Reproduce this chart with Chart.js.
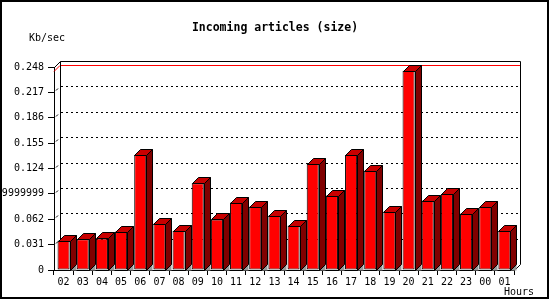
<!DOCTYPE html>
<html>
<head>
<meta charset="utf-8">
<script src="https://cdn.jsdelivr.net/npm/chart.js@4/dist/chart.umd.min.js"></script>
<style>
  html, body { margin: 0; padding: 0; background: #fff; }
  #wrap { width: 550px; height: 300px; }
</style>
</head>
<body>
<div id="wrap"><canvas id="chart" width="550" height="300"></canvas></div>
<script>
// hours on the x axis
const hours = ['02', '03', '04', '05', '06', '07', '08', '09', '10', '11', '12', '13',
               '14', '15', '16', '17', '18', '19', '20', '21', '22', '23', '00', '01'];
// incoming size, Kb/sec
const sizes = [0.036, 0.0375, 0.0385, 0.047, 0.1405, 0.0567, 0.048, 0.106, 0.0617, 0.0824, 0.0775, 0.0665,
               0.0543, 0.130, 0.091, 0.1405, 0.1215, 0.0714, 0.2435, 0.0848, 0.0928, 0.069, 0.077, 0.0476];
// y ticks as printed
const yTickValues = [0, 0.031, 0.062, 0.093, 0.124, 0.155, 0.186, 0.217, 0.248];
const yTickLabels = ['0', '0.031', '0.062', '0.09999999', '0.124', '0.155', '0.186', '0.217', '0.248'];

const TITLE = 'Incoming articles (size)';
const Y_TITLE = 'Kb/sec';
const X_TITLE = 'Hours';

const DEPTH = 6;
const FONT = 'DejaVu Sans Mono';

Chart.defaults.font.family = FONT;
Chart.defaults.color = '#000';

// back wall, grid and the 3d faces of the bars
const threeD = {
    id: 'threeD',
    beforeDatasetsDraw(chart) {
        const { ctx, chartArea: a, scales: { y } } = chart;
        const d = DEPTH;
        ctx.save();
        ctx.lineWidth = 1;
        ctx.strokeStyle = '#000';

        // dashed grid on back wall
        ctx.setLineDash([2, 3]);
        yTickValues.forEach((v, i) => {
            if (i === 0 || i === yTickValues.length - 1) return;
            const py = Math.round(y.getPixelForValue(v)) - d + 0.5;
            ctx.beginPath();
            ctx.moveTo(a.left + d + 1, py);
            ctx.lineTo(a.right + d, py);
            ctx.stroke();
        });
        ctx.setLineDash([]);
        // little diagonals from the front ticks
        yTickValues.forEach((v, i) => {
            if (i === 0 || i === yTickValues.length - 1) return;
            const py = Math.round(y.getPixelForValue(v)) + 0.5;
            ctx.beginPath();
            ctx.moveTo(a.left + 2, py - 2);
            ctx.lineTo(a.left + 4, py - 4);
            ctx.stroke();
        });

        // peak line
        const peak = Math.round(y.getPixelForValue(Math.max(...sizes))) + 0.5;
        ctx.strokeStyle = '#ff0000';
        ctx.beginPath();
        ctx.moveTo(a.left, peak);
        ctx.lineTo(a.left + d, peak - d);
        ctx.lineTo(a.right + d, peak - d);
        ctx.stroke();

        // wall outline
        ctx.strokeStyle = '#000';
        const L = Math.round(a.left) + 0.5, R = Math.round(a.right) + 0.5;
        const T = Math.round(a.top) + 0.5, B = Math.round(a.bottom) + 0.5;
        ctx.beginPath();
        ctx.moveTo(L + d, B - d);
        ctx.lineTo(L + d, T - d);
        ctx.lineTo(R + d, T - d);
        ctx.lineTo(R + d, B - d);
        ctx.moveTo(L, T);
        ctx.lineTo(L + d, T - d);
        ctx.moveTo(R, B);
        ctx.lineTo(R + d, B - d);
        ctx.stroke();
        ctx.restore();
    },
    afterDatasetsDraw(chart) {
        const { ctx } = chart;
        const d = DEPTH;
        ctx.save();
        ctx.lineWidth = 1;
        ctx.strokeStyle = '#000';
        chart.getDatasetMeta(0).data.forEach(bar => {
            const x0 = Math.round(bar.x - bar.width / 2) + 0.5;
            const x1 = Math.round(bar.x + bar.width / 2) + 0.5;
            const top = Math.round(bar.y) + 0.5;
            const base = Math.round(bar.base) + 0.5;

            // floor shadow
            ctx.fillStyle = '#999999';
            ctx.beginPath();
            ctx.moveTo(x1, base);
            ctx.lineTo(x1 + d, base - d);
            ctx.lineTo(x1 + d, base);
            ctx.closePath();
            ctx.fill();

            // side
            ctx.fillStyle = '#800000';
            ctx.beginPath();
            ctx.moveTo(x1, top);
            ctx.lineTo(x1 + d, top - d);
            ctx.lineTo(x1 + d, base - d);
            ctx.lineTo(x1, base);
            ctx.closePath();
            ctx.fill();
            ctx.stroke();

            // top
            ctx.fillStyle = '#c80000';
            ctx.beginPath();
            ctx.moveTo(x0, top);
            ctx.lineTo(x0 + d, top - d);
            ctx.lineTo(x1 + d, top - d);
            ctx.lineTo(x1, top);
            ctx.closePath();
            ctx.fill();
            ctx.stroke();
        });
        ctx.restore();
    },
    afterDraw(chart) {
        const { ctx } = chart;
        ctx.save();
        ctx.fillStyle = '#000';
        ctx.textBaseline = 'middle';
        ctx.font = 'bold 11.5px ' + FONT;
        ctx.textAlign = 'center';
        ctx.fillText(TITLE, 275, 28);
        ctx.font = '10px ' + FONT;
        ctx.fillText(Y_TITLE, 47, 38);
        ctx.fillText(X_TITLE, 519, 292);
        // frame
        ctx.strokeStyle = '#000';
        ctx.lineWidth = 2;
        ctx.strokeRect(1, 1, 547, 297);
        ctx.restore();
    }
};

new Chart(document.getElementById('chart'), {
    type: 'bar',
    data: {
        labels: hours,
        datasets: [{
            data: sizes,
            backgroundColor: '#ff0000',
            borderColor: '#000',
            borderWidth: 1,
            borderSkipped: false,
            barPercentage: 0.63,
            categoryPercentage: 1
        }]
    },
    options: {
        responsive: false,
        animation: false,
        devicePixelRatio: 1,
        layout: { padding: { top: 67, right: 36, bottom: 0, left: 0 } },
        plugins: {
            legend: { display: false },
            tooltip: { enabled: false },
            title: { display: false }
        },
        scales: {
            x: {
                offset: true,
                grid: { offset: true, drawOnChartArea: false, tickLength: 5, color: '#000' },
                border: { display: true, color: '#000' },
                ticks: { color: '#000', font: { size: 10 }, padding: 1, maxRotation: 0, autoSkip: false },
                afterFit(scale) { scale.height = 30; }
            },
            y: {
                min: 0,
                max: 0.248,
                afterBuildTicks(scale) {
                    scale.ticks = yTickValues.map(v => ({ value: v }));
                },
                grid: { drawOnChartArea: false, tickLength: 6, color: '#000' },
                border: { display: true, color: '#000' },
                ticks: {
                    color: '#000',
                    font: { size: 10 },
                    padding: 4,
                    callback: (val, i) => yTickLabels[i]
                },
                afterFit(scale) { scale.width = 54; }
            }
        }
    },
    plugins: [threeD]
});
</script>
</body>
</html>
